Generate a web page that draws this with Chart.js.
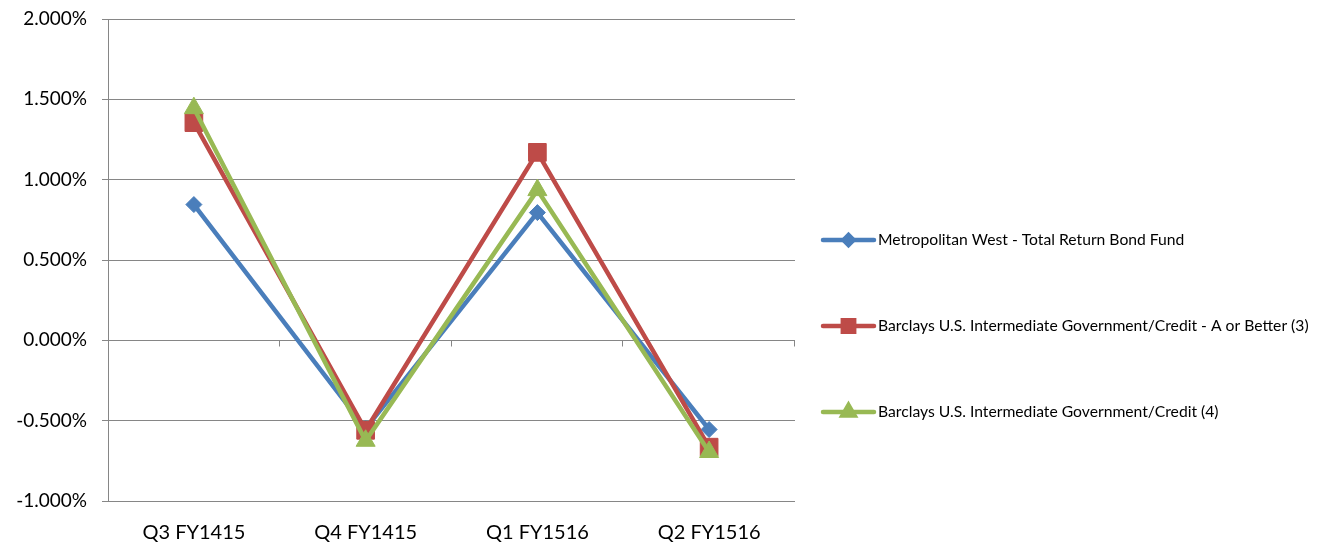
<!DOCTYPE html>
<html>
<head>
<meta charset="utf-8">
<script src="https://cdn.jsdelivr.net/npm/chart.js@4"></script>
<style>
  html, body { margin: 0; padding: 0; background: #ffffff; }
  #wrap { width: 1321px; height: 544px; }
</style>
</head>
<body>
<div id="wrap"><canvas id="chart" width="1321" height="544"></canvas></div>
<script>
// Quarterly returns, in percent
const quarters = ['Q3 FY1415', 'Q4 FY1415', 'Q1 FY1516', 'Q2 FY1516'];
const seriesNames = [
  'Metropolitan West - Total Return Bond Fund',
  'Barclays U.S. Intermediate Government/Credit - A or Better (3)',
  'Barclays U.S. Intermediate Government/Credit (4)'
];
const metWest = [0.845, -0.55, 0.795, -0.555];
const barclaysAorBetter = [1.355, -0.56, 1.17, -0.665];
const barclaysIntermediate = [1.445, -0.625, 0.935, -0.695];
const yMin = -1, yMax = 2, yStep = 0.5;

const FONT = 'Lato';
const GRID = '#868686';

// Small down-ticks on the zero line between categories
const zeroTicks = {
  id: 'zeroTicks',
  afterDatasetsDraw(chart) {
    const x = chart.scales.x, y = chart.scales.y;
    const y0 = Math.round(y.getPixelForValue(0)) + 0.5;
    const n = chart.data.labels.length;
    const step = (x.right - x.left) / n;
    const ctx = chart.ctx;
    ctx.save();
    ctx.strokeStyle = GRID;
    ctx.lineWidth = 1;
    ctx.beginPath();
    for (let i = 1; i <= n; i++) {
      const px = Math.round(x.left + i * step) - 0.5;
      ctx.moveTo(px, y0);
      ctx.lineTo(px, y0 + 6);
    }
    ctx.stroke();
    ctx.restore();
  }
};

// Legend on the right: line sample with marker, then the series name
const sideLegend = {
  id: 'sideLegend',
  afterDraw(chart) {
    const ctx = chart.ctx;
    const x0 = chart.chartArea.right + 28;
    const lineLen = 51;
    const top = 240, gap = 86;
    chart.data.datasets.forEach((ds, i) => {
      const cy = top + i * gap;
      ctx.save();
      ctx.strokeStyle = ds.borderColor;
      ctx.lineWidth = 4.5;
      ctx.lineCap = 'round';
      ctx.beginPath();
      ctx.moveTo(x0, cy);
      ctx.lineTo(x0 + lineLen, cy);
      ctx.stroke();
      ctx.fillStyle = ds.borderColor;
      Chart.helpers.drawPoint(ctx, {
        pointStyle: ds.pointStyle,
        radius: ds.legendRadius,
        borderWidth: 1
      }, x0 + lineLen / 2, cy);
      ctx.restore();
      ctx.save();
      ctx.fillStyle = '#000000';
      ctx.font = '15.7px ' + FONT;
      ctx.textAlign = 'left';
      ctx.textBaseline = 'middle';
      ctx.fillText(ds.label, x0 + lineLen + 4, cy);
      ctx.restore();
    });
  }
};

function series(label, data, color, style, radius, legendRadius, order) {
  return {
    label, data,
    borderColor: color,
    backgroundColor: color,
    borderWidth: 4.5,
    pointStyle: style,
    pointRadius: radius,
    pointHoverRadius: radius,
    pointBackgroundColor: color,
    pointBorderColor: color,
    pointBorderWidth: 1,
    legendRadius,
    tension: 0,
    order
  };
}

new Chart(document.getElementById('chart'), {
  type: 'line',
  data: {
    labels: quarters,
    datasets: [
      series(seriesNames[0], metWest, '#4A7EBB', 'rectRot', 8, 5, 3),
      series(seriesNames[1], barclaysAorBetter, '#BE4B48', 'rect', 12.5, 8, 2),
      series(seriesNames[2], barclaysIntermediate, '#98B954', 'triangle', 11, 7, 1)
    ]
  },
  options: {
    responsive: false,
    animation: false,
    devicePixelRatio: 1,
    layout: { padding: { top: 19, right: 526, bottom: 0, left: 0 } },
    plugins: { legend: { display: false }, tooltip: { enabled: false } },
    scales: {
      x: {
        offset: true,
        grid: { display: false },
        border: { display: false },
        ticks: { color: '#000000', font: { family: FONT, size: 20 }, padding: 12, maxRotation: 0 },
        afterFit(scale) { scale.height = 43; }
      },
      y: {
        min: yMin, max: yMax,
        ticks: {
          stepSize: yStep,
          color: '#000000',
          font: { family: FONT, size: 19 },
          padding: 15,
          callback: v => v.toFixed(3) + '%'
        },
        grid: { color: GRID, lineWidth: 1, tickLength: 6, tickColor: GRID },
        border: { display: true, color: GRID, width: 1 },
        afterFit(scale) {
          scale.width = 108;
          scale.paddingTop = 0;
          scale.paddingBottom = 0;
        }
      }
    }
  },
  plugins: [zeroTicks, sideLegend]
});
</script>
</body>
</html>
